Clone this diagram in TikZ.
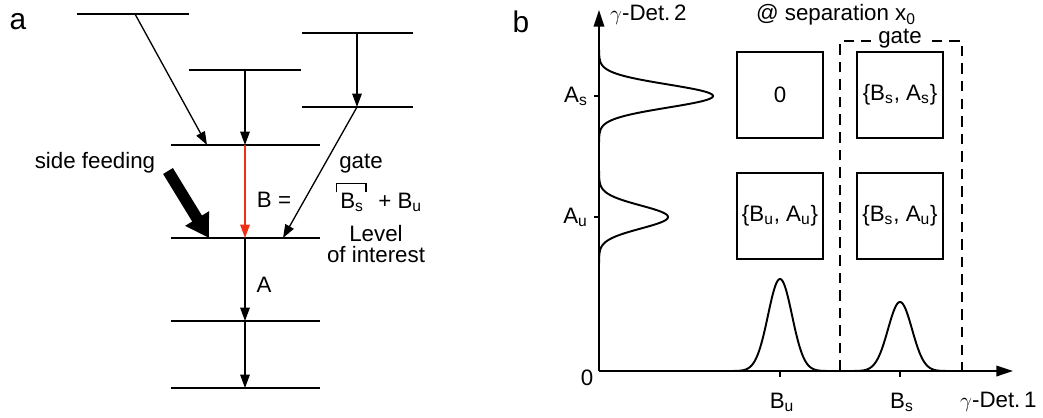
\documentclass[tikz,border=0pt]{standalone}
\usepackage{fontspec}
\setmainfont{Liberation Sans}
\usetikzlibrary{arrows.meta}
\definecolor{feedred}{RGB}{238,48,20}

\begin{document}
\begin{tikzpicture}[x=0.02cm,y=-0.02cm,>={Triangle[length=7.6pt,width=5.4pt]},
  font=\fontsize{12.7}{15}\selectfont,
  level/.style={line width=1.2pt},
  trans/.style={->,line width=.75pt},
  axis/.style={line width=1.1pt,-{Triangle[length=9.5pt,width=6pt]}},
  peak/.style={line width=1.1pt,smooth},
  cell/.style={draw,line width=1.1pt,minimum width=1.72cm,minimum height=1.72cm,inner sep=0pt},
  panel/.style={font=\fontsize{17}{18}\selectfont}]
\useasboundingbox (0,0) rectangle (1043,417);
% panel a: level scheme
\node[panel] (pa) at (18,22) {a};
\foreach \n/\xa/\xb/\y in {1/77/189/14,2/189/301/70,3/302/413/33,4/302/413/107,
  5/171/320/145,6/171/320/238,7/171/320/321,8/171/320/388}
 \draw[level] (\xa,\y) coordinate (L\n w) -- (\xb,\y) coordinate (L\n e);
\foreach \n/\x/\y in {t1/135/14,b1/207/145,t2/245/70,b2/245/145,t3/357/33,b3/357/107,
  t4/357/107,b4/283/238,t5/245/145,b5/245/238,t6/245/238,b6/245/321,t7/245/321,b7/245/388}
 \coordinate (\n) at (\x,\y);
\draw[trans] (t1) -- (b1);
\draw[trans] (t2) -- (b2);
\draw[trans] (t3) -- (b3);
\draw[trans] (t4) -- (b4);
\draw[trans,feedred] (t5) -- (b5);
\draw[trans] (t6) -- (b6);
\draw[trans] (t7) -- (b7);
% side feeding
\coordinate (sf0) at (168,171);
\coordinate (sf1) at (209,238);
\draw[line width=6.5pt,-{Triangle[length=13pt,width=15pt]}] (sf0) -- (sf1);
\node (sfl) at (95,163) {side feeding};
\node (beq) at (274,200) {B =};
\node (gl) at (361,164) {gate};
\node[anchor=base west,inner sep=0pt] (bs) at (340,208) {B\textsubscript{s}};
\node[anchor=base west,inner sep=0pt] (bu) at (378,208) {+ B\textsubscript{u}};
\draw[line width=.8pt] ([xshift=-2pt]bs.north west) -- ++(0,-9) -| ([xshift=1pt]bs.north east);
\node[align=center,font=\fontsize{12.7}{12}\selectfont] (loi) at (376,244) {Level\\of interest};
\node (al) at (264,285) {A};
% panel b: coincidence matrix
\node[panel] (pb) at (521,22) {b};
\coordinate (O) at (599,371);
\coordinate (ytip) at (599,10);
\coordinate (xtip) at (1013,371);
\draw[axis] (O) -- (ytip);
\draw[axis] (O) -- (xtip);
\node[anchor=west] (ylab) at (604,15) {$\gamma$-Det.\,2};
\node (sep) at (836,15) {@ separation x\textsubscript{0}};
\node[anchor=west] (xlab) at (954,402) {$\gamma$-Det.\,1};
\node (zero) at (587,378) {0};
\foreach \x/\s in {780/u,900/s}{
 \draw[line width=1.1pt] (\x,371) -- (\x,377);
 \node (B\s) at (\x+2,402) {B\textsubscript{\s}};
}
\foreach \y/\s in {96/s,217/u}{
 \draw[line width=1.1pt] (594,\y) -- (599,\y);
 \node[anchor=east] (A\s) at (594,\y) {A\textsubscript{\s}};
}
\node[cell] (c00) at (780,95) {0};
\node[cell] (c10) at (900,95) {\{B\textsubscript{s}, A\textsubscript{s}\}};
\node[cell] (c01) at (780,216) {\{B\textsubscript{u}, A\textsubscript{u}\}};
\node[cell] (c11) at (900,216) {\{B\textsubscript{s}, A\textsubscript{u}\}};
% gate window
\draw[line width=1.1pt,dash pattern=on 6pt off 4pt] (840,371) -- (840,41) -- (962,41) -- (962,371);
\node[fill=white,inner xsep=4pt,inner ysep=1pt] (gw) at (900,39) {gate};
% projections
\draw[peak] plot[variable=\t,domain=-46:46,samples=90] ({599+114*exp(-(\t*\t)/265)},{96+\t});
\draw[peak] plot[variable=\t,domain=-46:46,samples=90] ({599+69*exp(-(\t*\t)/265)},{217+\t});
\draw[peak] plot[variable=\t,domain=-46:46,samples=90] ({780+\t},{371-92*exp(-(\t*\t)/288)});
\draw[peak] plot[variable=\t,domain=-46:46,samples=90] ({900+\t},{371-69*exp(-(\t*\t)/288)});
\end{tikzpicture}
\end{document}
